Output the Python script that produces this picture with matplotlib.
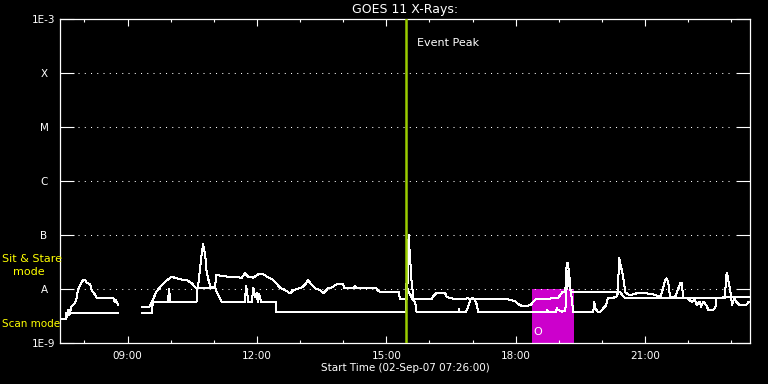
import numpy as np
import pandas as pd
import matplotlib
matplotlib.use("Agg")
import matplotlib.pyplot as plt
from matplotlib.ticker import FixedLocator, NullLocator

# time window and markers
t_start, t_end = "07:26", "23:26"
event_peak = "15:28"
box_start, box_end = "18:23", "19:21"

level_flux = [1e-9, 1e-8, 1e-7, 1e-6, 1e-5, 1e-4, 1e-3]
level_labels = ["1E-9", "A", "B", "C", "M", "X", "1E-3"]
major_hours = [9, 12, 15, 18, 21]
major_labels = ["09:00", "12:00", "15:00", "18:00", "21:00"]

# upper curve (W/m^2), nan = data gap
upper_times = ["07:35", "07:37", "07:39", "07:41", "07:42", "07:47", "07:49", "07:51", "07:55", "07:58",
               "08:01", "08:03", "08:08", "08:10", "08:15", "08:17", "08:40", "08:42", "08:43", "08:47",
               "09:00",
               "09:20", "09:30", "09:34", "09:40", "09:50", "10:01", "10:13", "10:22", "10:29", "10:36",
               "10:38", "10:43", "10:45", "10:48", "10:50", "10:52", "10:55", "11:02", "11:03", "11:20",
               "11:39", "11:43", "11:48", "11:55", "12:02", "12:09", "12:14", "12:21", "12:27", "12:32",
               "12:39", "12:46", "12:51", "13:02", "13:07", "13:11", "13:16", "13:21", "13:28", "13:32",
               "13:37", "13:39", "13:42", "13:51", "14:00", "14:02", "14:14", "14:16", "14:19", "14:46",
               "14:49", "14:51", "15:17", "15:19", "15:27", "15:29", "15:31", "15:33", "15:35", "15:37",
               "15:38", "16:03", "16:05", "16:09", "16:22", "16:24", "16:29", "16:50", "16:53", "16:56",
               "16:59", "17:04", "17:49", "17:52", "17:59", "18:04", "18:08", "18:17", "18:22", "18:24",
               "18:28", "18:52", "18:59", "19:02", "19:05", "19:09", "19:11", "19:13", "19:15", "19:18",
               "20:22", "20:24", "20:26", "20:29", "20:31", "20:32", "20:39", "20:48", "21:02", "21:11",
               "21:21", "21:23", "21:28", "21:30", "21:32", "21:35", "21:42", "21:49", "21:51", "21:53",
               "23:26"]
upper_flux = [2.9e-9, 4.1e-9, 3.3e-9, 4.3e-9, 4.7e-9, 5.5e-9, 6.8e-9, 9.6e-9, 1.24e-8, 1.47e-8,
              1.47e-8, 1.29e-8, 1.24e-8, 9.6e-9, 7.7e-9, 6.9e-9, 6.9e-9, 5.8e-9, 6.3e-9, 5.1e-9,
              np.nan,
              4.6e-9, 4.6e-9, 5.8e-9, 8.9e-9, 1.28e-8, 1.69e-8, 1.51e-8, 1.47e-8, 1.28e-8, 1.03e-8,
              1.1e-8, 4.26e-8, 6.7e-8, 4.26e-8, 2.1e-8, 1.58e-8, 1.1e-8, 1.1e-8, 1.82e-8, 1.69e-8,
              1.62e-8, 1.95e-8, 1.69e-8, 1.62e-8, 1.87e-8, 1.87e-8, 1.69e-8, 1.51e-8, 1.28e-8, 1.06e-8,
              9.6e-9, 8.3e-9, 9.6e-9, 1.06e-8, 1.2e-8, 1.47e-8, 1.2e-8, 1.03e-8, 9.6e-9, 8.3e-9,
              9.6e-9, 1.06e-8, 1.03e-8, 1.22e-8, 1.22e-8, 1.03e-8, 1.03e-8, 1.14e-8, 1.03e-8, 1.03e-8,
              9.2e-9, 8.8e-9, 8.8e-9, 6.45e-9, 6.45e-9, 6.45e-9, 1.0e-7, 3.96e-8, 1.47e-8, 8.3e-9,
              6.45e-9, 6.45e-9, 7.2e-9, 8.3e-9, 8.3e-9, 7.2e-9, 6.7e-9, 6.5e-9, 6.9e-9, 6.3e-9,
              6.8e-9, 6.45e-9, 6.45e-9, 6.3e-9, 6.0e-9, 5.2e-9, 4.9e-9, 4.9e-9, 5.2e-9, 5.8e-9,
              6.45e-9, 6.7e-9, 6.9e-9, 7.7e-9, 8.7e-9, 8.7e-9, 3.0e-8, 3.1e-8, 1.03e-8, 8.7e-9,
              8.7e-9, 3.7e-8, 2.78e-8, 1.82e-8, 1.28e-8, 8.7e-9, 7.7e-9, 8.3e-9, 8.3e-9, 8.0e-9,
              7.2e-9, 8.3e-9, 1.47e-8, 1.58e-8, 1.37e-8, 6.9e-9, 7.2e-9, 1.28e-8, 1.3e-8, 6.9e-9,
              7.0e-9]

# lower curve
lower_times = ["07:26", "07:35", "07:35", "08:47", "09:00",
               "09:20", "09:34", "09:35", "09:56", "09:58", "09:59", "10:36", "10:37", "11:02", "11:04",
               "11:11", "11:43", "11:45", "11:48", "11:53", "11:55", "11:57", "12:00", "12:01", "12:03",
               "12:06", "12:26", "12:27", "15:27", "15:27", "15:28", "15:30", "15:37", "15:40", "15:42",
               "16:41", "16:41", "16:42", "16:51", "16:54", "16:57", "17:03", "17:06", "17:08", "18:43",
               "18:44", "18:45", "18:56", "18:57", "18:59", "19:04", "19:09", "19:10", "19:12", "19:14",
               "19:16", "19:18", "19:20", "19:48", "19:49", "19:51", "19:54", "19:57", "20:06", "20:08",
               "20:13", "20:20", "20:23", "20:25", "20:32", "21:59", "22:05", "22:09", "22:12", "22:16",
               "22:18", "22:21", "22:25", "22:28", "22:35", "22:38", "22:39", "22:51", "22:53", "22:54",
               "22:58", "23:00", "23:01", "23:04", "23:07", "23:11", "23:21", "23:24", "23:26"]
lower_flux = [2.75e-9, 2.75e-9, 3.64e-9, 3.64e-9, np.nan,
              3.64e-9, 3.64e-9, 5.8e-9, 5.8e-9, 9.9e-9, 5.8e-9, 5.8e-9, 1.03e-8, 1.04e-8, 8.8e-9,
              5.8e-9, 5.8e-9, 1.15e-8, 5.8e-9, 5.8e-9, 1.06e-8, 7.2e-9, 8.3e-9, 5.8e-9, 8.0e-9,
              5.8e-9, 5.8e-9, 3.7e-9, 3.8e-9, 4.5e-9, 1.28e-8, 9.6e-9, 6.3e-9, 5.8e-9, 3.8e-9,
              3.8e-9, 4.2e-9, 3.8e-9, 3.8e-9, 4.7e-9, 6.45e-9, 6.45e-9, 5.06e-9, 3.7e-9, 3.7e-9,
              4.1e-9, 3.7e-9, 3.7e-9, 4.4e-9, 4.1e-9, 3.8e-9, 3.9e-9, 6.7e-9, 1.95e-8, 2.25e-8,
              1.03e-8, 6.7e-9, 3.7e-9, 3.7e-9, 5.8e-9, 4.4e-9, 3.8e-9, 3.7e-9, 5.06e-9, 6.7e-9,
              6.7e-9, 7.2e-9, 8.9e-9, 8.9e-9, 6.7e-9, 6.7e-9, 5.8e-9, 6.3e-9, 5.06e-9, 5.8e-9,
              4.7e-9, 5.8e-9, 5.06e-9, 4.1e-9, 4.1e-9, 4.7e-9, 6.7e-9, 6.7e-9, 1.82e-8, 1.95e-8,
              1.03e-8, 6.7e-9, 5.06e-9, 6.7e-9, 5.8e-9, 5.06e-9, 5.06e-9, 5.8e-9, 5.8e-9]


def hrs(s):
    h, m = s.split(":")
    return int(h) + int(m) / 60.0


def px(x, y):
    return x / 768.0, 1 - y / 384.0


W = 768
H = 384
fig = plt.figure(figsize=(W / 100, H / 100), dpi=100, facecolor="black")
ax = fig.add_axes([60 / W, 41 / H, 690 / W, 324 / H], facecolor="black")

ut = [hrs(t) for t in upper_times]
lt = [hrs(t) for t in lower_times]

ax.axvspan(hrs(box_start), hrs(box_end), ymin=0, ymax=1 / 6, color="#cc00cc", lw=0, zorder=1)
ax.plot(ut, upper_flux, color="white", lw=0.72, antialiased=False, zorder=3)
ax.plot(lt, lower_flux, color="white", lw=0.72, antialiased=False, zorder=3)
ax.axvline(hrs(event_peak), color="#9acd00", lw=1.8, zorder=4)

for lev in level_flux[1:-1]:
    ax.axhline(lev, xmin=0.026, xmax=0.977, color="white", lw=0.75, ls=(0, (1, 5)), zorder=2)

ax.set_yscale("log")
ax.set_ylim(1e-9, 1e-3)
ax.set_xlim(hrs(t_start), hrs(t_end))

ax.yaxis.set_major_locator(FixedLocator(level_flux))
ax.yaxis.set_minor_locator(NullLocator())
ax.set_yticklabels(level_labels)
ax.xaxis.set_major_locator(FixedLocator(major_hours))
ax.xaxis.set_minor_locator(FixedLocator(range(8, 24)))
ax.set_xticklabels(major_labels)

for s in ax.spines.values():
    s.set_color("white")
    s.set_linewidth(0.9)

ax.tick_params(axis="y", which="major", direction="in", length=10.2, width=0.8, color="white",
               left=True, right=True, labelcolor="white", labelsize=7.5, pad=11.5)
ax.tick_params(axis="x", which="major", direction="in", length=4.7, width=0.8, color="white",
               top=True, bottom=True, labelcolor="white", labelsize=7.5, pad=6)
ax.tick_params(axis="x", which="minor", direction="in", length=2.4, width=0.8, color="white",
               top=True, bottom=True)
for lbl in ax.get_yticklabels():
    lbl.set_ha("center")

fig.text(*px(405, 10), "GOES 11 X-Rays:", color="white", fontsize=9, ha="center", va="center")
fig.text(*px(405, 368), "Start Time (02-Sep-07 07:26:00)", color="white", fontsize=7.5,
         ha="center", va="center")
fig.text(*px(417, 43), "Event Peak", color="white", fontsize=8, ha="left", va="center")
fig.text(*px(2, 259), "Sit & Stare", color="yellow", fontsize=8, ha="left", va="center")
fig.text(*px(13, 272), "mode", color="yellow", fontsize=8, ha="left", va="center")
fig.text(*px(2, 324), "Scan mode", color="yellow", fontsize=7.5, ha="left", va="center")
fig.text(*px(533, 332), "O", color="white", fontsize=8, ha="left", va="center")

fig.savefig("out.png", dpi=100, facecolor="black")
